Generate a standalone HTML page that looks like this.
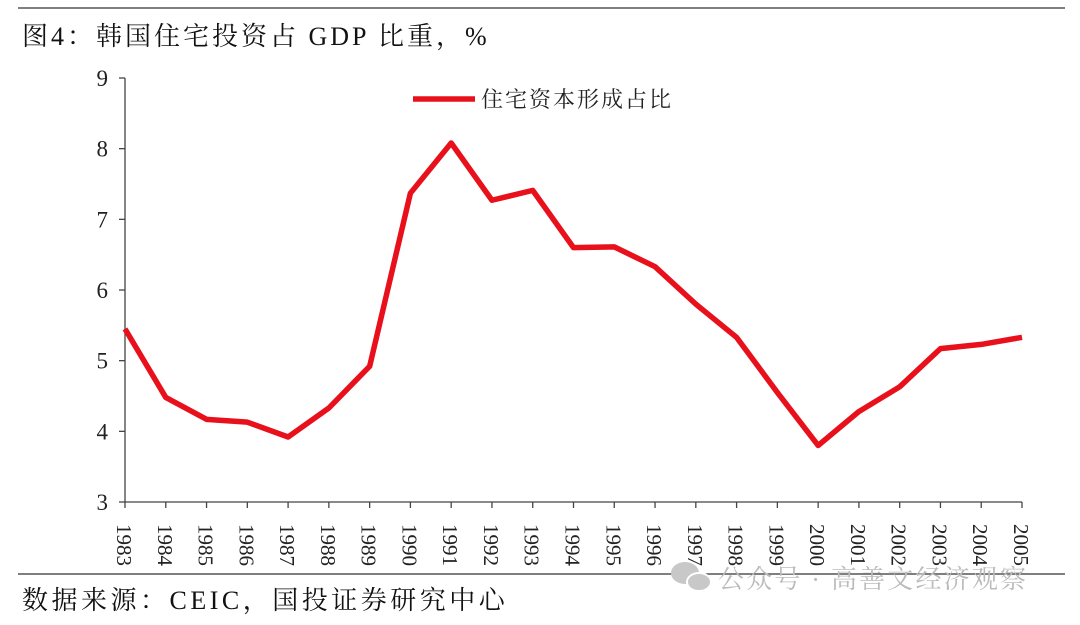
<!DOCTYPE html>
<html><head><meta charset="utf-8"><style>
body{margin:0;background:#fff;width:1080px;height:620px;overflow:hidden}
svg text{font-family:"Liberation Serif","Noto Serif CJK SC",serif}
</style></head><body>
<svg width="1080" height="620">
<line x1="18" y1="8" x2="1065" y2="8" stroke="#333" stroke-width="1.2"/>
<text x="22" y="45" font-size="26" letter-spacing="3" fill="#111">图4：韩国住宅投资占 GDP 比重，%</text>
<g id="plot"></g>
<line x1="18" y1="574" x2="1065" y2="574" stroke="#333" stroke-width="1.2"/>
<text x="22" y="609" font-size="26" letter-spacing="3.5" fill="#111">数据来源：CEIC，国投证券研究中心</text>
<g fill="#c8c8c8">
<ellipse cx="685" cy="573" rx="14" ry="11"/>
<ellipse cx="699" cy="582" rx="12" ry="9" stroke="#fff" stroke-width="2"/>
</g>
<text x="718" y="588" font-size="26" letter-spacing="2.2" fill="#bbb" font-family="Liberation Sans,Noto Sans CJK SC,sans-serif">公众号 · 高善文经济观察</text>
</svg>
<script>
const years=["1983","1984","1985","1986","1987","1988","1989","1990","1991","1992","1993","1994","1995","1996","1997","1998","1999","2000","2001","2002","2003","2004","2005"];
const values=[5.45,4.48,4.17,4.13,3.92,4.33,4.92,7.37,8.08,7.27,7.41,6.6,6.61,6.33,5.8,5.33,4.55,3.8,4.28,4.63,5.17,5.23,5.33];
const yTicks=[3,4,5,6,7,8,9];
const NS="http://www.w3.org/2000/svg";
const g=document.getElementById('plot');
const x0=125,x1=1022,yTop=78,yBot=502;
const X=i=>x0+(x1-x0)*i/(years.length-1);
const Y=v=>yBot-(v-3)/(9-3)*(yBot-yTop);
function mk(t,a,p){const e=document.createElementNS(NS,t);for(const k in a)e.setAttribute(k,a[k]);(p||g).appendChild(e);return e;}
const ya=mk('line',{x1:x0,y1:yTop,x2:x0,y2:yBot,stroke:'#444','stroke-width':1.3});


const xa=mk('line',{x1:x0,y1:yBot,x2:x1,y2:yBot,stroke:'#444','stroke-width':1.3});


yTicks.forEach(v=>{
 mk('line',{x1:x0-6,y1:Y(v),x2:x0,y2:Y(v),stroke:'#444','stroke-width':1.3});
 const t=mk('text',{x:x0-17,y:Y(v)+8,'font-size':23,'text-anchor':'end',fill:'#222'});
 t.textContent=v;
 
 
});
years.forEach((yr,i)=>{
 mk('line',{x1:X(i),y1:yBot,x2:X(i),y2:yBot+6,stroke:'#444','stroke-width':1.3});
 const t=mk('text',{x:0,y:0,'font-size':21,fill:'#222',transform:`translate(${X(i)-8},524) rotate(90)`});
 t.textContent=yr;
 
 
});
const line=mk('polyline',{points:values.map((v,i)=>X(i)+','+Y(v)).join(' '),fill:'none',stroke:'#e8101b','stroke-width':5.5,'stroke-linejoin':'round'});


const ll=mk('line',{x1:413,y1:99,x2:475,y2:99,stroke:'#e8101b','stroke-width':5.5});


const lt=mk('text',{x:481,y:107,'font-size':22,'letter-spacing':2,fill:'#222'});
lt.textContent='住宅资本形成占比';


</script>
</body></html>
